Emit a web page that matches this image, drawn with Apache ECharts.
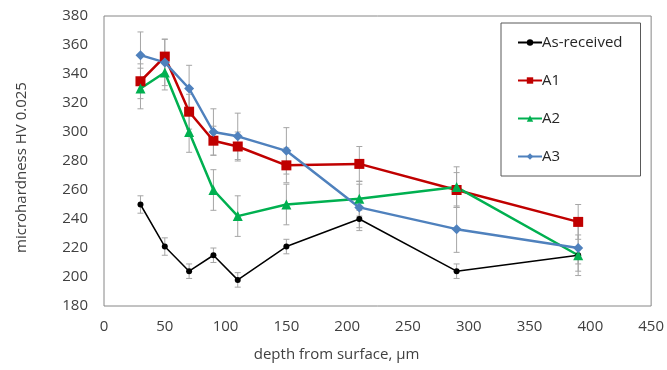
<!DOCTYPE html>
<html>
<head>
<meta charset="utf-8">
<script src="https://cdn.jsdelivr.net/npm/echarts@6/dist/echarts.min.js"></script>
<style>
  html, body { margin: 0; padding: 0; background: #fff; }
  #chart { width: 667px; height: 370px; }
</style>
</head>
<body>
<div id="chart"></div>
<script>
// depth points (µm)
const depth = [30, 50, 70, 90, 110, 150, 210, 290, 390]

// hardness values
const asReceived = [250, 221, 204, 215, 198, 221, 240, 204, 215]
const a1 = [335, 352, 314, 294, 290, 277, 278, 260, 238]
const a2 = [330, 341, 300, 260, 242, 250, 254, 262, 215]
const a3 = [353, 348, 330, 300, 297, 287, 248, 233, 220]

// +/- error (symmetric)
const asReceivedErr = [6, 6, 5, 5, 5, 5, 6, 5, 6]
const a1Err = [12, 12, 12, 10, 10, 12, 12, 12, 12]
const a2Err = [14, 12, 14, 14, 14, 14, 12, 14, 14]
const a3Err = [16, 16, 16, 16, 16, 16, 16, 16, 16]

const xTicks = { min: 0, max: 450, interval: 50 }
const yTicks = { min: 180, max: 380, interval: 20 }

const font = '"Open Sans", "Noto Sans", sans-serif'
const textColor = '#404040'

const chart = echarts.init(document.getElementById('chart'))

const pairs = (vals) => depth.map((d, i) => [d, vals[i]])

// error bar series (drawn behind the lines)
const errorBars = (name, vals, errs) => ({
  name: name + '-err',
  type: 'custom',
  silent: true,
  z: 1,
  data: depth.map((d, i) => [d, vals[i] - errs[i], vals[i] + errs[i]]),
  renderItem: (params, api) => {
    const lo = api.coord([api.value(0), api.value(1)])
    const hi = api.coord([api.value(0), api.value(2)])
    const cap = 3
    const style = { stroke: '#a6a6a6', lineWidth: 1 }
    return {
      type: 'group',
      children: [
        { type: 'line', shape: { x1: hi[0], y1: hi[1], x2: lo[0], y2: lo[1] }, style },
        { type: 'line', shape: { x1: hi[0] - cap, y1: hi[1], x2: hi[0] + cap, y2: hi[1] }, style },
        { type: 'line', shape: { x1: lo[0] - cap, y1: lo[1], x2: lo[0] + cap, y2: lo[1] }, style }
      ]
    }
  }
})

const lineSeries = (name, vals, color, symbol, size, width) => ({
  name,
  type: 'line',
  data: pairs(vals),
  symbol,
  symbolSize: size,
  z: 3,
  itemStyle: { color },
  lineStyle: { color, width }
})

const option = {
  animation: false,
  textStyle: { fontFamily: font },
  grid: {
    left: 104,
    right: 14,
    top: 16,
    bottom: 64,
    show: true,
    borderColor: '#868686',
    borderWidth: 1
  },
  legend: {
    orient: 'vertical',
    left: 501,
    top: 23,
    padding: [12, 18, 12, 16],
    itemGap: 23,
    itemWidth: 24,
    itemHeight: 8,
    borderColor: '#595959',
    borderWidth: 1,
    textStyle: { fontFamily: font, fontSize: 15, color: '#262626', padding: [0, 0, 0, -5] },
    data: ['As-received', 'A1', 'A2', 'A3']
  },
  xAxis: {
    type: 'value',
    min: xTicks.min,
    max: xTicks.max,
    interval: xTicks.interval,
    name: 'depth from surface, µm',
    nameLocation: 'middle',
    nameGap: 41,
    nameTextStyle: { fontFamily: font, fontSize: 15, color: textColor, padding: [0, 82, 0, 0] },
    axisLine: { show: false },
    axisTick: { show: false },
    splitLine: { show: false },
    axisLabel: { fontFamily: font, fontSize: 15, color: textColor, margin: 13 }
  },
  yAxis: {
    type: 'value',
    min: yTicks.min,
    max: yTicks.max,
    interval: yTicks.interval,
    name: 'microhardness HV 0.025',
    nameLocation: 'middle',
    nameGap: 75,
    nameTextStyle: { fontFamily: font, fontSize: 15, color: textColor, padding: [0, 13, 0, 0] },
    axisLine: { show: false },
    axisTick: { show: false },
    splitLine: { show: false },
    axisLabel: { fontFamily: font, fontSize: 15, color: textColor, margin: 16 }
  },
  series: [
    errorBars('As-received', asReceived, asReceivedErr),
    errorBars('A1', a1, a1Err),
    errorBars('A2', a2, a2Err),
    errorBars('A3', a3, a3Err),
    lineSeries('As-received', asReceived, '#000000', 'circle', 6, 1.5),
    lineSeries('A1', a1, '#c00000', 'rect', 10, 2.5),
    lineSeries('A2', a2, '#00b050', 'triangle', 10, 2.5),
    lineSeries('A3', a3, '#4f81bd', 'diamond', 10, 2.5)
  ]
}

chart.setOption(option)
</script>
</body>
</html>
